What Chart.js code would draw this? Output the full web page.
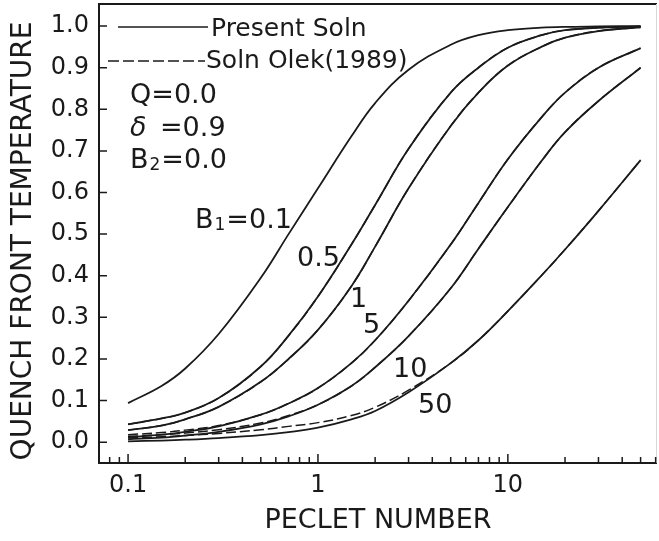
<!DOCTYPE html>
<html>
<head>
<meta charset="utf-8">
<script src="https://cdn.jsdelivr.net/npm/chart.js@4.4.0/dist/chart.umd.min.js"></script>
<style>
  html, body { margin: 0; padding: 0; background: #fff; }
</style>
</head>
<body>
<canvas id="quenchChart" width="659" height="541"></canvas>
<script>
// Peclet number (x)
const peclet = [0.1, 0.15, 0.2, 0.3, 0.5, 0.7, 1, 1.5, 2, 3, 5, 7, 10, 15, 20, 30, 50];

// present solution, one list per B1
const presentB01 = [0.094, 0.135, 0.177, 0.26, 0.395, 0.5, 0.61, 0.735, 0.815, 0.895, 0.955, 0.978, 0.99, 0.996, 0.998, 0.999, 1.0];
const presentB05 = [0.043, 0.057, 0.071, 0.106, 0.182, 0.256, 0.35, 0.475, 0.57, 0.705, 0.84, 0.9, 0.948, 0.978, 0.99, 0.996, 0.999];
const presentB1 = [0.029, 0.04, 0.055, 0.085, 0.145, 0.2, 0.27, 0.375, 0.47, 0.61, 0.76, 0.84, 0.905, 0.95, 0.972, 0.988, 0.997];
const presentB5 = [0.012, 0.018, 0.025, 0.038, 0.066, 0.093, 0.13, 0.19, 0.245, 0.34, 0.475, 0.575, 0.68, 0.78, 0.84, 0.9, 0.947];
const presentB10 = [0.007, 0.011, 0.016, 0.025, 0.043, 0.062, 0.09, 0.135, 0.18, 0.255, 0.37, 0.465, 0.565, 0.675, 0.745, 0.82, 0.9];
const presentB50 = [0.002, 0.004, 0.006, 0.01, 0.017, 0.024, 0.035, 0.055, 0.075, 0.12, 0.19, 0.245, 0.315, 0.4, 0.463, 0.556, 0.678];

// Olek (1989) solution
const olekB05 = [0.043, 0.057, 0.071, 0.106, 0.182, 0.256, 0.35, 0.475, 0.57, 0.705, 0.84, 0.9, 0.948, 0.978, 0.99, 0.996, 0.999];
const olekB1 = [0.029, 0.04, 0.055, 0.085, 0.145, 0.2, 0.27, 0.375, 0.47, 0.61, 0.76, 0.84, 0.905, 0.95, 0.972, 0.988, 0.997];
const olekB5 = [0.018, 0.023, 0.029, 0.04, 0.066, 0.093, 0.13, 0.19, 0.245, 0.34, 0.475, 0.575, 0.68, 0.78, 0.84, 0.9, 0.947];
const olekB10 = [0.014, 0.018, 0.022, 0.03, 0.046, 0.064, 0.09, 0.135, 0.18, 0.255, 0.37, 0.465, 0.565, 0.675, 0.745, 0.82, 0.9];
const olekB50 = [0.01, 0.013, 0.016, 0.021, 0.03, 0.038, 0.047, 0.064, 0.084, 0.125, 0.19, 0.245, 0.315, 0.4, 0.463, 0.556, 0.678];

// tick labels
const yTickValues = [0, 0.1, 0.2, 0.3, 0.4, 0.5, 0.6, 0.7, 0.8, 0.9, 1.0];
const xMajorTicks = [0.1, 1, 10];
const xMinorTicks = [0.08, 0.09, 0.2, 0.3, 0.4, 0.5, 0.6, 0.7, 0.8, 0.9,
  2, 3, 4, 5, 6, 7, 8, 9, 20, 30, 40, 50, 60];

const INK = '#1a1a1a';
const FONT = '"DejaVu Sans", sans-serif';

function toPoints(values) {
  return peclet.map((p, i) => ({ x: p, y: values[i] }));
}

function solid(values) {
  return {
    data: toPoints(values),
    borderColor: INK,
    borderWidth: 1.8,
    pointRadius: 0,
    tension: 0.4,
    fill: false
  };
}

function dashed(values) {
  return {
    data: toPoints(values),
    borderColor: INK,
    borderWidth: 1.5,
    borderDash: [10, 4],
    pointRadius: 0,
    tension: 0.4,
    fill: false
  };
}

// text with subscript, e.g. B + 1
function drawSub(ctx, base, sub, rest, x, y, size) {
  ctx.font = `${size}px ${FONT}`;
  ctx.fillText(base, x, y);
  x += ctx.measureText(base).width;
  ctx.font = `${Math.round(size * 0.62)}px ${FONT}`;
  ctx.fillText(sub, x + 1, y + 2);
  x += ctx.measureText(sub).width + 2;
  ctx.font = `${size}px ${FONT}`;
  ctx.fillText(rest, x, y);
}

const decorPlugin = {
  id: 'decor',
  afterDatasetsDraw(chart) {
    const { ctx, chartArea: a, scales: { x, y } } = chart;
    ctx.save();

    // frame
    ctx.strokeStyle = INK;
    ctx.lineWidth = 2;
    ctx.beginPath();
    ctx.moveTo(a.right, a.top);
    ctx.lineTo(a.left, a.top);
    ctx.lineTo(a.left, a.bottom);
    ctx.lineTo(a.right, a.bottom);
    ctx.stroke();
    ctx.strokeStyle = '#d8d8d8';
    ctx.lineWidth = 1;
    ctx.beginPath();
    ctx.moveTo(a.right - 0.5, a.top);
    ctx.lineTo(a.right - 0.5, a.bottom);
    ctx.stroke();

    // inward ticks
    ctx.strokeStyle = INK;
    ctx.lineWidth = 1.5;
    ctx.beginPath();
    yTickValues.forEach(v => {
      const py = y.getPixelForValue(v);
      ctx.moveTo(a.left, py);
      ctx.lineTo(a.left + 8, py);
    });
    xMajorTicks.forEach(v => {
      const px = x.getPixelForValue(v);
      ctx.moveTo(px, a.bottom);
      ctx.lineTo(px, a.bottom - 9);
    });
    xMinorTicks.forEach(v => {
      const px = x.getPixelForValue(v);
      ctx.moveTo(px, a.bottom);
      ctx.lineTo(px, a.bottom - 6);
    });
    ctx.stroke();

    ctx.fillStyle = INK;

    // axis titles
    ctx.textAlign = 'center';
    ctx.textBaseline = 'middle';
    ctx.font = `27px ${FONT}`;
    ctx.fillText('PECLET NUMBER', (a.left + a.right) / 2, 521);
    ctx.save();
    ctx.translate(24, 241);
    ctx.rotate(-Math.PI / 2);
    ctx.font = `28px ${FONT}`;
    ctx.fillText('QUENCH FRONT TEMPERATURE', 0, 0);
    ctx.restore();

    // legend
    ctx.lineWidth = 1.6;
    ctx.beginPath();
    ctx.moveTo(118, 27);
    ctx.lineTo(208, 27);
    ctx.stroke();
    ctx.setLineDash([11, 4]);
    ctx.beginPath();
    ctx.moveTo(108, 61);
    ctx.lineTo(205, 61);
    ctx.stroke();
    ctx.setLineDash([]);
    ctx.textAlign = 'left';
    ctx.textBaseline = 'alphabetic';
    ctx.font = `25px ${FONT}`;
    ctx.fillText('Present Soln', 211, 36);
    ctx.fillText('Soln Olek(1989)', 206, 68);

    // parameters
    ctx.font = `27px ${FONT}`;
    ctx.fillText('Q=0.0', 130, 103);
    ctx.font = `italic 27px ${FONT}`;
    ctx.fillText('δ', 130, 136);
    ctx.font = `27px ${FONT}`;
    ctx.fillText('=0.9', 160, 136);
    drawSub(ctx, 'B', '2', '=0.0', 130, 168, 27);

    // curve labels
    drawSub(ctx, 'B', '1', '=0.1', 195, 228, 27);
    ctx.font = `27px ${FONT}`;
    ctx.fillText('0.5', 297, 266);
    ctx.fillText('1', 350, 307);
    ctx.fillText('5', 363, 333);
    ctx.fillText('10', 393, 377);
    ctx.fillText('50', 418, 413);

    ctx.restore();
  }
};

new Chart(document.getElementById('quenchChart'), {
  type: 'line',
  data: {
    datasets: [
      solid(presentB01),
      solid(presentB05),
      solid(presentB1),
      solid(presentB5),
      solid(presentB10),
      solid(presentB50),
      dashed(olekB05),
      dashed(olekB1),
      dashed(olekB5),
      dashed(olekB10),
      dashed(olekB50)
    ]
  },
  options: {
    responsive: false,
    animation: false,
    layout: { padding: { left: 0, top: 4, right: 2, bottom: 0 } },
    plugins: {
      legend: { display: false },
      tooltip: { enabled: false }
    },
    scales: {
      x: {
        type: 'logarithmic',
        min: 0.0703,
        max: 61,
        grid: { display: false, drawTicks: false },
        border: { display: false },
        afterBuildTicks: scale => {
          scale.ticks = xMajorTicks.map(v => ({ value: v }));
        },
        afterFit: scale => {
          scale.height = 78;
          scale.paddingLeft = 0;
          scale.paddingRight = 0;
        },
        ticks: {
          color: INK,
          padding: 8,
          maxRotation: 0,
          font: { family: 'DejaVu Sans', size: 24 },
          callback: v => String(v)
        }
      },
      y: {
        type: 'linear',
        min: -0.05,
        max: 1.053,
        grid: { display: false, drawTicks: false },
        border: { display: false },
        afterBuildTicks: scale => {
          scale.ticks = yTickValues.map(v => ({ value: v }));
        },
        afterFit: scale => {
          scale.width = 99;
          scale.paddingTop = 0;
          scale.paddingBottom = 0;
        },
        ticks: {
          color: INK,
          padding: 10,
          font: { family: 'DejaVu Sans', size: 24 },
          callback: v => v.toFixed(1)
        }
      }
    }
  },
  plugins: [decorPlugin]
});
</script>
</body>
</html>
